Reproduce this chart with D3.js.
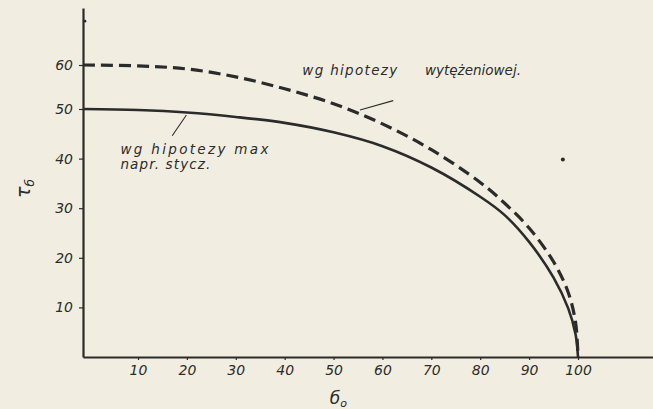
<!DOCTYPE html>
<html>
<head>
<meta charset="utf-8">
<script src="https://cdn.jsdelivr.net/npm/d3@7"></script>
<style>
  html, body { margin: 0; padding: 0; background: #f1eee1; }
  svg { display: block; }
  text { font-family: "DejaVu Sans", sans-serif; font-style: italic; fill: #2b2b2b; }
</style>
</head>
<body>
<svg id="chart"></svg>
<script>
// values
var sigma = [0, 10, 20, 30, 40, 50, 60, 70, 80, 85, 90, 95, 98, 99.5, 100];
var tauMaxShear = [50, 49.8, 49.3, 48.4, 47.2, 45.3, 42.5, 38.2, 32.3, 28.6, 23.2, 16, 9.8, 4.6, 0];
var tauEnergy = [60, 59.8, 59.1, 57.3, 54.6, 51.2, 47, 41.8, 35.2, 31, 26, 19.2, 13, 7, 0];
var xTicks = [10, 20, 30, 40, 50, 60, 70, 80, 90, 100];
var yTicks = [10, 20, 30, 40, 50, 60];
var labelMaxShear = ["wg hipotezy max", "napr. stycz."];
var labelEnergy = ["wg hipotezy", "wytężeniowej."];

var width = 653, height = 409, ink = "#2b2b2b";

var svg = d3.select("#chart").attr("width", width).attr("height", height);

// hand-drawn axes are a bit uneven, so piecewise scales
var x = d3.scaleLinear().domain([0, 10, 100, 115.3]).range([83, 138, 578, 653]);
var y = d3.scaleLinear().domain([0, 50, 60, 73]).range([357, 109, 65, 8]);

// axes
var gx = svg.append("g")
  .attr("transform", "translate(0," + y(0) + ")")
  .call(d3.axisBottom(x).tickValues(xTicks).tickSize(3).tickPadding(5).tickSizeOuter(0));
var gy = svg.append("g")
  .attr("transform", "translate(" + x(0) + ",0)")
  .call(d3.axisLeft(y).tickValues(yTicks).tickSize(4).tickPadding(6).tickSizeOuter(0));

[gx, gy].forEach(function(g) {
  g.select(".domain").attr("stroke", ink).attr("stroke-width", 2.2);
  g.selectAll(".tick line").attr("stroke", ink).attr("stroke-width", 1.2);
  g.selectAll(".tick text")
    .style("font-size", "14px")
    .style("font-family", "'DejaVu Sans', sans-serif")
    .style("font-style", "italic")
    .attr("fill", ink);
});

// curves
var line = d3.line()
  .x(function(d) { return x(d[0]); })
  .y(function(d) { return y(d[1]); })
  .curve(d3.curveCatmullRom.alpha(0.5));

svg.append("path")
  .datum(d3.zip(sigma, tauMaxShear))
  .attr("d", line)
  .attr("fill", "none")
  .attr("stroke", ink)
  .attr("stroke-width", 2.6);

svg.append("path")
  .datum(d3.zip(sigma, tauEnergy))
  .attr("d", line)
  .attr("fill", "none")
  .attr("stroke", ink)
  .attr("stroke-width", 3.2)
  .attr("stroke-dasharray", "12,6");

// annotations
svg.append("g").selectAll("text")
  .data(labelMaxShear)
  .enter().append("text")
    .attr("x", x(6.8))
    .attr("y", function(d, i) { return y(41) + i * 15; })
    .attr("textLength", function(d, i) { return i ? 90 : 148; })
    .attr("lengthAdjust", "spacing")
    .style("font-size", "13.5px")
    .text(function(d) { return d; });

svg.append("line")
  .attr("x1", x(17)).attr("y1", y(44.6))
  .attr("x2", x(19.9)).attr("y2", y(48.8))
  .attr("stroke", ink).attr("stroke-width", 1.1);

svg.append("g").selectAll("text")
  .data(labelEnergy)
  .enter().append("text")
    .attr("x", function(d, i) { return i ? x(68.7) : x(43.6); })
    .attr("y", y(57.7))
    .attr("textLength", function(d, i) { return i ? 96 : 95; })
    .attr("lengthAdjust", "spacing")
    .style("font-size", "13.5px")
    .text(function(d) { return d; });

svg.append("line")
  .attr("x1", x(55.4)).attr("y1", y(49.8))
  .attr("x2", x(62.2)).attr("y2", y(51.9))
  .attr("stroke", ink).attr("stroke-width", 1.1);

// axis titles
svg.append("text")
  .attr("x", x(51)).attr("y", 404)
  .attr("text-anchor", "middle")
  .style("font-size", "17px")
  .html("б<tspan dy='3' font-size='11px'>o</tspan>");

svg.append("text")
  .attr("transform", "translate(30,198) rotate(-90)")
  .style("font-size", "19px")
  .html("τ<tspan dy='4' font-size='12px'>б</tspan>");

// specks on the scan
svg.append("circle").attr("cx", x(96.9)).attr("cy", y(39.8)).attr("r", 2).attr("fill", ink);
svg.append("circle").attr("cx", x(0) + 2).attr("cy", y(70)).attr("r", 1.3).attr("fill", ink);
</script>
</body>
</html>
